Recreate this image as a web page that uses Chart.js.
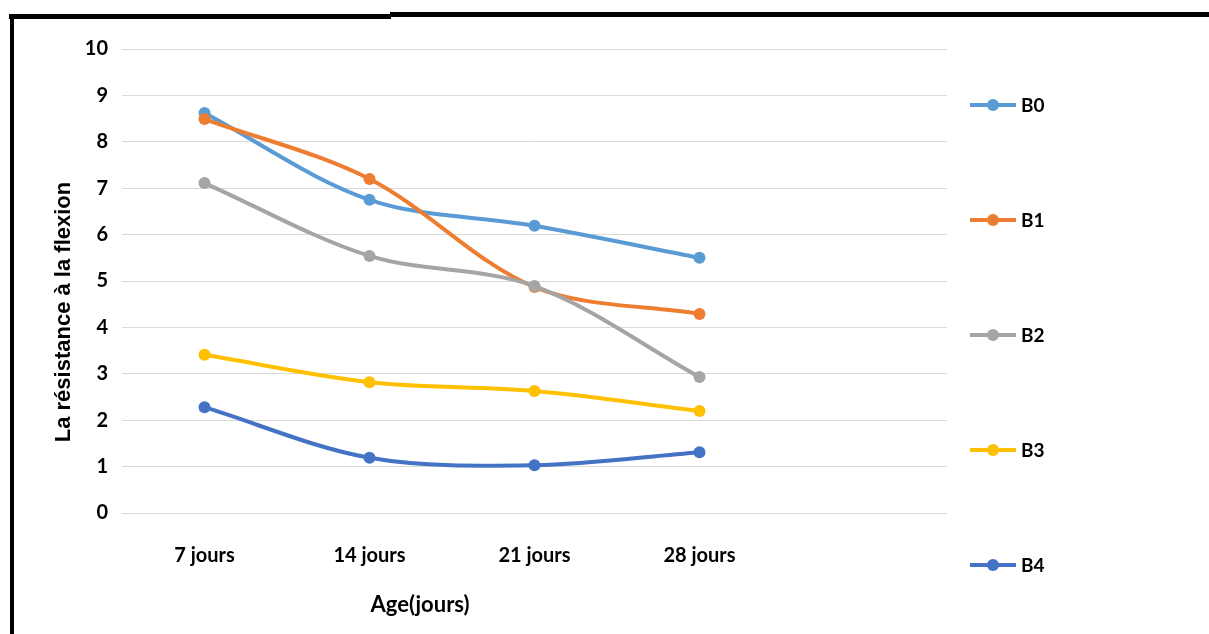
<!DOCTYPE html>
<html>
<head>
<meta charset="utf-8">
<script src="https://cdn.jsdelivr.net/npm/chart.js@4/dist/chart.umd.min.js"></script>
<style>
  html, body { margin:0; padding:0; background:#fff; }
  #wrap { position:relative; width:1209px; height:634px; overflow:hidden; }
  canvas { position:absolute; left:0; top:0; }
  .bar { position:absolute; background:#000; }
</style>
</head>
<body>
<div id="wrap">
  <canvas id="c" width="1209" height="634"></canvas>
  <div class="bar" style="left:9px;top:14px;width:382px;height:5px"></div>
  <div class="bar" style="left:390px;top:12px;width:819px;height:5px"></div>
  <div class="bar" style="left:10px;top:14px;width:4px;height:620px"></div>
</div>
<script>
// categories (last slot is empty, as in the original sheet)
const ages = ["7 jours", "14 jours", "21 jours", "28 jours", ""];
const seriesNames = ["B0", "B1", "B2", "B3", "B4"];
const B0 = [8.62, 6.75, 6.19, 5.5];
const B1 = [8.49, 7.2, 4.87, 4.29];
const B2 = [7.11, 5.54, 4.89, 2.93];
const B3 = [3.41, 2.82, 2.63, 2.2];
const B4 = [2.28, 1.19, 1.03, 1.31];
const yTicks = [0, 1, 2, 3, 4, 5, 6, 7, 8, 9, 10];
const colors = ["#5B9BD5", "#ED7D31", "#A5A5A5", "#FFC000", "#4472C4"];

const values = [B0, B1, B2, B3, B4];
const datasets = values.map((v, i) => ({
  label: seriesNames[i],
  data: v,
  borderColor: colors[i],
  backgroundColor: colors[i],
  pointBackgroundColor: colors[i],
  pointBorderColor: colors[i],
  pointRadius: 6,
  pointBorderWidth: 0,
  borderWidth: 4,
  tension: 0.33,
  order: values.length - i
}));

// legend spread down the right side + axis titles, drawn by hand like the Excel export
const sideLegend = {
  id: "sideLegend",
  afterDraw(chart) {
    const ctx = chart.ctx;
    ctx.save();
    chart.data.datasets.forEach((ds, i) => {
      const y = 105 + i * 115;
      ctx.strokeStyle = ds.borderColor;
      ctx.lineWidth = 4;
      ctx.beginPath();
      ctx.moveTo(970, y);
      ctx.lineTo(1016, y);
      ctx.stroke();
      ctx.fillStyle = ds.borderColor;
      ctx.beginPath();
      ctx.arc(993, y, 6, 0, Math.PI * 2);
      ctx.fill();
      ctx.fillStyle = "#000";
      ctx.font = "bold 19px Lato";
      ctx.textAlign = "left";
      ctx.textBaseline = "middle";
      ctx.fillText(ds.label, 1021, y + 1);
    });
    ctx.font = "bold 22px Lato";
    ctx.textAlign = "center";
    ctx.fillText("Age(jours)", 420, 605);

    ctx.translate(64, 312);
    ctx.rotate(-Math.PI / 2);
    ctx.font = "bold 22px 'Liberation Sans'";
    ctx.fillText("La résistance à la flexion", 0, 0);
    ctx.restore();
  }
};

new Chart(document.getElementById("c"), {
  type: "line",
  data: { labels: ages, datasets: datasets },
  options: {
    responsive: false,
    animation: false,
    layout: { padding: { left: 0, right: 262, top: 49, bottom: 0 } },
    plugins: { legend: { display: false }, tooltip: { enabled: false } },
    scales: {
      x: {
        offset: true,
        grid: { display: false },
        border: { display: false },
        ticks: { color: "#000", font: { family: "Lato", size: 20, weight: "bold" }, padding: 23, maxRotation: 0, autoSkip: false },
        afterFit: s => { s.height = 121; }
      },
      y: {
        min: 0,
        max: 10,
        afterBuildTicks: s => { s.ticks = yTicks.map(v => ({ value: v })); },
        grid: { color: "#d9d9d9", lineWidth: 1, drawTicks: false },
        border: { display: false },
        ticks: { color: "#000", font: { family: "Lato", size: 20, weight: "bold" }, padding: 14 },
        afterFit: s => { s.width = 122; }
      }
    }
  },
  plugins: [sideLegend]
});
</script>
</body>
</html>
